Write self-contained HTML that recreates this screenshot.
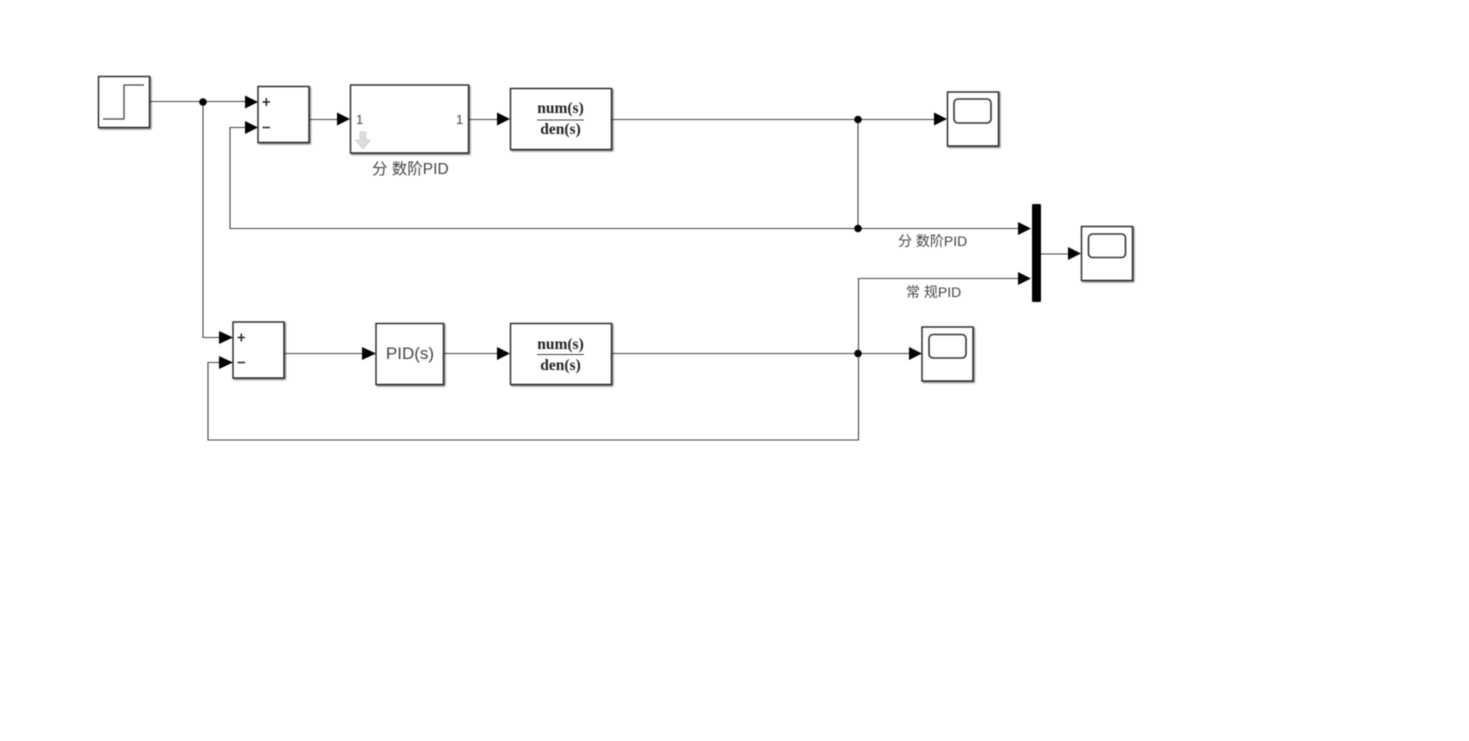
<!DOCTYPE html>
<html><head><meta charset="utf-8"><style>
html,body{margin:0;padding:0;background:#fff;width:1469px;height:741px;overflow:hidden}
svg{display:block;filter:blur(.5px)}
.w{stroke:#444;stroke-width:1.1;fill:none}
.b{fill:#fff;stroke:#222;stroke-width:1.4;filter:url(#s)}
.a{fill:#000}
.t{font-family:"Liberation Sans","Noto Sans CJK SC",sans-serif;fill:#444}
.f{font-family:"Liberation Serif",serif;font-weight:bold;font-size:15.500px;fill:#222;text-anchor:middle}
</style></head><body>
<svg width="1469" height="741" viewBox="0 0 1469 741" xmlns="http://www.w3.org/2000/svg">
<defs><filter id="s" x="-10%" y="-10%" width="125%" height="125%"><feDropShadow dx="1.2" dy="1.2" stdDeviation="0.9" flood-color="#000" flood-opacity=".55"/></filter></defs>
<g class="w">
<path d="M150 101.500H246"/><path d="M203 102V337.500H220"/>
<path d="M245 127.500H230V228.500H1019"/>
<path d="M310 119.500H338"/><path d="M469 119.500H498"/><path d="M612 119.500H935"/>
<path d="M858 119.500V228.500"/>
<path d="M1041 254H1069"/>
<path d="M1019 278.500H858.500V440H208V362.500H220"/>
<path d="M285 353.500H363"/><path d="M444 353.500H498"/><path d="M612 353.500H910"/>
</g>
<g class="a">
<circle cx="203" cy="102" r="3.800"/><circle cx="858" cy="119.500" r="3.800"/><circle cx="858" cy="228.500" r="3.800"/><circle cx="858" cy="353.500" r="3.800"/>
<path d="M245 95.500V108.500L258 102Z"/><path d="M245 121V134L258 127.500Z"/>
<path d="M337 112.500V125.500L350 119Z"/><path d="M497 112.500V125.500L510 119Z"/>
<path d="M934 112.500V125.500L947 119Z"/><path d="M1018 222V235L1031 228.500Z"/><path d="M1018 272V285L1031 278.500Z"/>
<path d="M1068 247V260L1081 253.500Z"/><path d="M909 347V360L922 353.500Z"/>
<path d="M219 331V344L233 337.500Z"/><path d="M219 356V369L233 362.500Z"/>
<path d="M362 347V360L376 353.500Z"/><path d="M497 347V360L510 353.500Z"/>
</g>
<rect class="b" x="98.500" y="76.500" width="51" height="51"/>
<path d="M103 119H124V85H144" fill="none" stroke="#444" stroke-width="1.300"/>
<rect class="b" x="258" y="86.500" width="51" height="56"/>
<rect class="b" x="350.500" y="85" width="118" height="68"/>
<rect class="b" x="510.500" y="88.500" width="101" height="61"/>
<rect class="b" x="947.500" y="92" width="51" height="54"/>
<rect x="954" y="99" width="37" height="24" rx="4" fill="none" stroke="#333" stroke-width="1.600"/>
<rect x="1032" y="204" width="9" height="98" rx="1.500" fill="#000"/>
<rect class="b" x="1081.500" y="226.500" width="51" height="54"/>
<rect x="1088.500" y="234" width="37" height="23.500" rx="4" fill="none" stroke="#333" stroke-width="1.600"/>
<rect class="b" x="922" y="327" width="51" height="54"/>
<rect x="929" y="334.500" width="37" height="23.500" rx="4" fill="none" stroke="#333" stroke-width="1.600"/>
<rect class="b" x="233" y="322" width="51" height="56"/>
<rect class="b" x="376" y="323.500" width="67.500" height="61"/>
<rect class="b" x="510.500" y="323.500" width="101" height="61"/>
<path d="M262.500 102H270M266.300 98V106M262.500 127.500H270M237.500 337.500H245M241.300 333.500V341.500M237.500 362.500H245" stroke="#222" stroke-width="1.500" fill="none"/>
<path d="M360 132H366V140H370.500L363 149L355.500 140H360Z" fill="#ddd" stroke="#ccc" stroke-width=".8"/>
<text class="t" x="356" y="124" font-size="13">1</text>
<text class="t" x="456" y="124" font-size="13">1</text>
<text class="t" x="372" y="174" font-size="15.500">分 数阶PID</text>
<text class="t" x="898" y="246" font-size="14">分 数阶PID</text>
<text class="t" x="906" y="297" font-size="14">常 规PID</text>
<text class="t" x="410" y="359" font-size="17" text-anchor="middle">PID(s)</text>
<text class="f" x="560.500" y="113">num(s)</text><path d="M537 120H584" stroke="#444" stroke-width="1.100"/><text class="f" x="560.500" y="134">den(s)</text>
<text class="f" x="560.500" y="349">num(s)</text><path d="M537 354.500H584" stroke="#444" stroke-width="1.100"/><text class="f" x="560.500" y="370">den(s)</text>
</svg>
</body></html>
